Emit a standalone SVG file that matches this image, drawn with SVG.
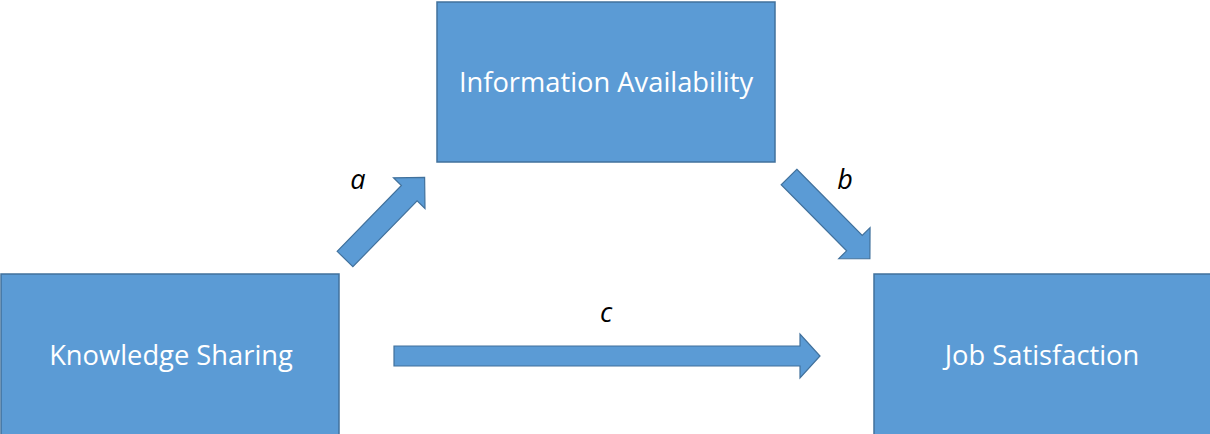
<svg xmlns="http://www.w3.org/2000/svg" width="1210" height="434" viewBox="0 0 1210 434">
<style>
.box{fill:#5B9BD5;stroke:#41719C;stroke-width:1.5}
.arr{fill:#5B9BD5;stroke:#41719C;stroke-width:1.2}
.lbl{font-family:"Open Sans","Liberation Sans",sans-serif;font-size:27.3px;fill:#FFFFFF;text-anchor:middle}
.it{font-family:"Open Sans","Liberation Sans",sans-serif;font-size:27px;font-style:italic;fill:#000000;text-anchor:middle}
</style>
<rect width="1210" height="434" fill="#FFFFFF"/>
<g id="connectors">
<polygon class="arr" transform="translate(345,259) rotate(-45.7)" points="0,-11 92,-11 92,-22 114,0 92,22 92,11 0,11"/>
<polygon class="arr" transform="translate(789,177) rotate(45.3)" points="0,-11 93,-11 93,-22 115,0 93,22 93,11 0,11"/>
<polygon class="arr" points="394,346 800,346 800,334 820,356 800,378 800,366 394,366"/>
<text class="it" x="358" y="189">a</text>
<text class="it" x="845" y="189">b</text>
<text class="it" x="606" y="322">c</text>
</g>
<g id="info">
<rect class="box" x="437" y="2" width="338" height="160"/>
<text class="lbl" x="606" y="92">Information Availability</text>
</g>
<g id="knowledge">
<rect class="box" x="1" y="274" width="338" height="165"/>
<text class="lbl" x="171" y="365">Knowledge Sharing</text>
</g>
<g id="job">
<rect class="box" x="874" y="274" width="340" height="165"/>
<text class="lbl" x="1042" y="365">Job Satisfaction</text>
</g>
</svg>
